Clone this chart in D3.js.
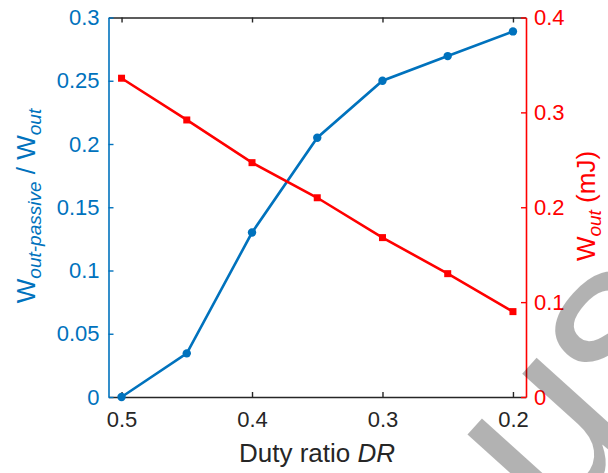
<!DOCTYPE html>
<html><head><meta charset="utf-8">
<script src="https://cdn.jsdelivr.net/npm/d3@7"></script>
<style>
body{margin:0;background:#fff;}
svg{display:block;font-family:"Liberation Sans",Arial,sans-serif;}
</style></head>
<body>
<svg id="chart" width="608" height="473"></svg>
<script>
// ---- data ----
const dutyRatio = [0.5, 0.45, 0.4, 0.35, 0.3, 0.25, 0.2];
const passiveRatio = [0.0, 0.0345, 0.13, 0.205, 0.25, 0.2695, 0.289];
const wOut = [0.336, 0.292, 0.247, 0.210, 0.168, 0.130, 0.090];
const xTicks = [0.5, 0.4, 0.3, 0.2];
const xTickLabels = ["0.5", "0.4", "0.3", "0.2"];
const yLeftTicks = [0, 0.05, 0.1, 0.15, 0.2, 0.25, 0.3];
const yLeftTickLabels = ["0", "0.05", "0.1", "0.15", "0.2", "0.25", "0.3"];
const yRightTicks = [0, 0.1, 0.2, 0.3, 0.4];
const yRightTickLabels = ["0", "0.1", "0.2", "0.3", "0.4"];

const BLUE = "#0072BD", RED = "#FF0000", DARK = "#262626";
const L = 108.5, R = 526, T = 17.5, B = 397;
const svg = d3.select("#chart");

const x = d3.scaleLinear().domain([0.51, 0.19]).range([L, R]);
const yL = d3.scaleLinear().domain([0, 0.3]).range([B, T]);
const yR = d3.scaleLinear().domain([0, 0.4]).range([B, T]);

const TL = 5, FS = 22;

// x axis bottom & top
const xb = svg.append("g").attr("transform", `translate(0,${B})`)
  .call(d3.axisBottom(x).tickValues(xTicks).tickFormat((d,i)=>xTickLabels[i]).tickSizeInner(-TL).tickSizeOuter(0).tickPadding(14));
const xt = svg.append("g").attr("transform", `translate(0,${T})`)
  .call(d3.axisTop(x).tickValues(xTicks).tickFormat("").tickSizeInner(-TL).tickSizeOuter(0));
[xb, xt].forEach(g => {
  g.select(".domain").attr("stroke", DARK).attr("stroke-width", 1.4);
  g.selectAll(".tick line").attr("stroke", DARK).attr("stroke-width", 1.4);
  g.selectAll("text").attr("fill", DARK).attr("font-size", FS).attr("font-family", "Liberation Sans, Arial, sans-serif");
});

// left axis
const yl = svg.append("g").attr("transform", `translate(${L},0)`)
  .call(d3.axisLeft(yL).tickValues(yLeftTicks).tickFormat((d,i)=>yLeftTickLabels[i]).tickSizeInner(-TL).tickSizeOuter(0).tickPadding(9));
yl.select(".domain").attr("stroke", BLUE).attr("stroke-width", 1.6);
yl.selectAll(".tick line").attr("stroke", BLUE).attr("stroke-width", 1.4);
yl.selectAll("text").attr("fill", BLUE).attr("font-size", FS).attr("font-family", "Liberation Sans, Arial, sans-serif");

// right axis
const yr = svg.append("g").attr("transform", `translate(${R},0)`)
  .call(d3.axisRight(yR).tickValues(yRightTicks).tickFormat((d,i)=>yRightTickLabels[i]).tickSizeInner(-TL).tickSizeOuter(0).tickPadding(8));
yr.select(".domain").attr("stroke", RED).attr("stroke-width", 1.6);
yr.selectAll(".tick line").attr("stroke", RED).attr("stroke-width", 1.4);
yr.selectAll("text").attr("fill", RED).attr("font-size", FS).attr("font-family", "Liberation Sans, Arial, sans-serif");

// blue series
const lineL = d3.line().x((d,i)=>x(dutyRatio[i])).y(d=>yL(d));
svg.append("path").datum(passiveRatio).attr("d", lineL)
  .attr("fill","none").attr("stroke",BLUE).attr("stroke-width",2.6);
svg.selectAll(".bdot").data(passiveRatio).enter().append("circle")
  .attr("cx",(d,i)=>x(dutyRatio[i])).attr("cy",d=>yL(d)).attr("r",4.2).attr("fill",BLUE);

// red series
const lineR = d3.line().x((d,i)=>x(dutyRatio[i])).y(d=>yR(d));
svg.append("path").datum(wOut).attr("d", lineR)
  .attr("fill","none").attr("stroke",RED).attr("stroke-width",2.6);
svg.selectAll(".rsq").data(wOut).enter().append("rect")
  .attr("x",(d,i)=>x(dutyRatio[i])-3.5).attr("y",d=>yR(d)-3.5).attr("width",7).attr("height",7).attr("fill",RED);

// axis labels
const AF = 26, SF = 19;
svg.append("text").attr("x", 317).attr("y", 462).attr("text-anchor","middle")
  .attr("font-size", AF).attr("fill", DARK)
  .call(t => { t.append("tspan").text("Duty ratio "); t.append("tspan").attr("font-style","italic").text("DR"); });

const lt = svg.append("text").attr("transform","translate(35,206) rotate(-90)").attr("text-anchor","middle")
  .attr("font-size", AF).attr("fill", BLUE);
lt.append("tspan").text("W");
lt.append("tspan").attr("font-size", SF).attr("font-style","italic").attr("dy", 6).text("out-passive");
lt.append("tspan").attr("dy", -6).text(" / W");
lt.append("tspan").attr("font-size", SF).attr("font-style","italic").attr("dy", 6).text("out");

const rt = svg.append("text").attr("transform","translate(595,206) rotate(-90)").attr("text-anchor","middle")
  .attr("font-size", AF).attr("fill", RED);
rt.append("tspan").text("W");
rt.append("tspan").attr("font-size", SF).attr("font-style","italic").attr("dy", 6).text("out");
rt.append("tspan").attr("dy", -6).text(" (mJ)");

// watermark overlay (semi-transparent, as in the reference)
const wm = svg.append("text").attr("transform","translate(553,533) rotate(-48)")
  .attr("font-size", 245).attr("fill","#000").attr("fill-opacity",0.3)
  .attr("font-family","Liberation Sans, Arial, sans-serif");
wm.append("tspan").text("u");
wm.append("tspan").attr("dx", -6).attr("dy", -14).text("s");
</script>
</body></html>
